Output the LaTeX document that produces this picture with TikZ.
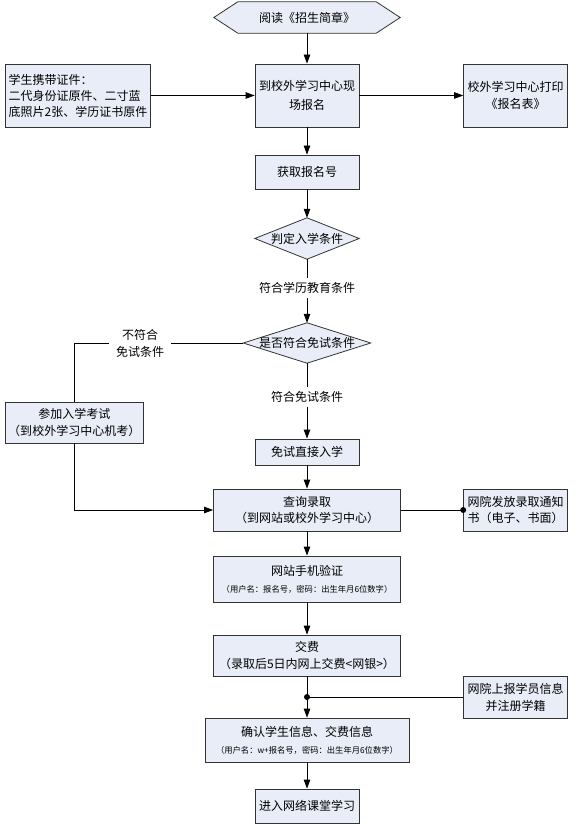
\documentclass[tikz,border=0pt]{standalone}
\usepackage{fontspec}
\setmainfont{Noto Sans CJK SC}
\usetikzlibrary{arrows.meta, backgrounds}
\definecolor{boxblue}{HTML}{E8EDF7}
\newcommand{\fine}{\fontsize{8.3}{11}\selectfont}

\begin{document}
\begin{tikzpicture}[x = 1pt, y = -1pt,
		box/.style = {draw = black!80, fill = boxblue, line width = 0.8pt, inner sep = 1pt, align = center, font = \fontsize{12}{17}\selectfont},
		outline/.style = {draw = black!80, fill = boxblue, line width = 0.8pt},
		ghost/.style = {inner sep = 0pt, align = center, font = \fontsize{12}{17}\selectfont},
		lab/.style = {inner xsep = 7pt, inner ysep = 4pt, align = center, font = \fontsize{12}{17}\selectfont},
		arr/.style = {-{Triangle[length = 9pt, width = 6.5pt]}, line width = 0.8pt},
		line/.style = {line width = 0.8pt},
		dot/.style = {circle, fill, inner sep = 0pt, minimum size = 6pt}]
		\useasboundingbox (0, 0) rectangle (576, 826);
		%%%%%%%%%%%%%
		\node [ghost, minimum width = 186pt, minimum height = 31pt] (read) at (307, 17.5) {阅读《招生简章》};
		\node [box, minimum width = 104pt, minimum height = 63pt, font = \fontsize{12}{19}\selectfont] (reg) at (307, 95.5) {到校外学习中心现\\场报名};
		\node [box, minimum width = 145pt, minimum height = 63pt, align = left, font = \fontsize{12}{16}\selectfont] (carry) at (78, 95.5) {学生携带证件：\\二代身份证原件、二寸蓝\\底照片2张、学历证书原件};
		\node [box, minimum width = 104pt, minimum height = 63pt] (print) at (515.6, 95.5) {校外学习中心打印\\《报名表》};
		\node [box, minimum width = 104pt, minimum height = 34pt] (number) at (307, 172) {获取报名号};
		\node [ghost, minimum width = 104pt, minimum height = 41pt] (d1) at (307, 238.5) {判定入学条件};
		\node [lab] (lab1) at (307, 288) {符合学历教育条件};
		\node [ghost, minimum width = 127pt, minimum height = 40pt] (d2) at (307, 343) {是否符合免试条件};
		\node [lab] (lab2) at (140, 343) {不符合\\免试条件};
		\node [box, minimum width = 137.5pt, minimum height = 41pt] (exam) at (74.25, 422.5) {参加入学考试\\（到校外学习中心机考）};
		\node [lab] (lab3) at (307, 397) {符合免试条件};
		\node [box, minimum width = 104pt, minimum height = 26pt] (direct) at (307, 452) {免试直接入学};
		\node [box, minimum width = 187pt, minimum height = 42pt, font = \fontsize{12}{16}\selectfont] (query) at (307, 510) {查询录取\\（到网站或校外学习中心）};
		\node [box, minimum width = 104pt, minimum height = 42pt, font = \fontsize{12}{16}\selectfont] (notice) at (515.6, 510) {网院发放录取通知\\书（电子、书面）};
		\node [box, minimum width = 187pt, minimum height = 46pt] (verify) at (307, 579) {网站手机验证\\{\fine （用户名：报名号，密码：出生年月6位数字）}};
		\node [box, minimum width = 187pt, minimum height = 41pt] (pay) at (307, 655.5) {交费\\（录取后5日内网上交费<网银>）};
		\node [box, minimum width = 104pt, minimum height = 42pt] (register) at (515.6, 697) {网院上报学员信息\\并注册学籍};
		\node [box, minimum width = 204pt, minimum height = 44pt] (confirm) at (307, 740) {确认学生信息、交费信息\\{\fine （用户名：w+报名号，密码：出生年月6位数字）}};
		\node [box, minimum width = 104pt, minimum height = 34pt] (study) at (307, 806) {进入网络课堂学习};
		\coordinate (join) at (pay.south |- register.west);
		%%%%%%%%%%%%%
		\begin{scope}[on background layer]
			\filldraw [outline] (read.west) -- ([xshift = 24pt] read.north west) -- ([xshift = -24pt] read.north east) -- (read.east) -- ([xshift = -24pt] read.south east) -- ([xshift = 24pt] read.south west) -- cycle;
			\filldraw [outline] (d1.north) -- (d1.east) -- (d1.south) -- (d1.west) -- cycle;
			\filldraw [outline] (d2.north) -- (d2.east) -- (d2.south) -- (d2.west) -- cycle;
		\end{scope}
		%%%%%%%%%%%%%
		\draw [arr] (read) to (reg);
		\draw [arr] (carry) to (reg);
		\draw [arr] (reg) to (print);
		\draw [arr] (reg) to (number);
		\draw [arr] (number) to (d1.north);
		\draw [line] (d1.south) to (lab1);
		\draw [arr] (lab1) to (d2.north);
		\draw [line] (d2.west) to (lab2);
		\draw [line] (lab2) -| (exam);
		\draw [arr] (exam) |- (query);
		\draw [line] (d2.south) to (lab3);
		\draw [arr] (lab3) to (direct);
		\draw [arr] (direct) to (query);
		\draw [line] (query) to (notice.west) node [dot] {};
		\draw [arr] (query) to (verify);
		\draw [arr] (verify) to (pay);
		\draw [arr] (pay) to (confirm);
		\draw [line] (register) to (join) node [dot] {};
		\draw [arr] (confirm) to (study);
		%%%%%%%%%%%%%%
	\end{tikzpicture}
\end{document}
